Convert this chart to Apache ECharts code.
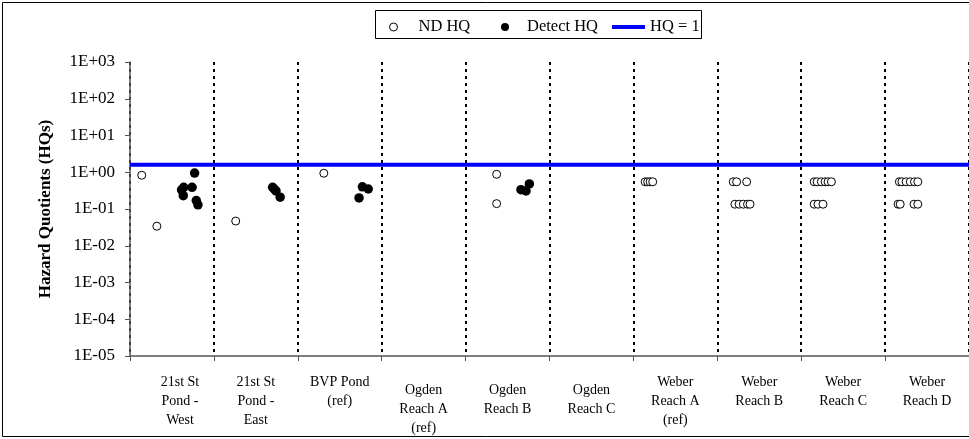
<!DOCTYPE html>
<html>
<head>
<meta charset="utf-8">
<script src="https://cdn.jsdelivr.net/npm/echarts@6/dist/echarts.min.js"></script>
<style>
  html, body { margin: 0; padding: 0; background: #fff; }
  #chart { width: 969px; height: 439px; }
</style>
</head>
<body>
<div id="chart"></div>
<script>
// ---------- data ----------
const categories = [
  '21st St\nPond -\nWest',
  '21st St\nPond -\nEast',
  'BVP Pond\n(ref)',
  'Ogden\nReach A\n(ref)',
  'Ogden\nReach B',
  'Ogden\nReach C',
  'Weber\nReach A\n(ref)',
  'Weber\nReach B',
  'Weber\nReach C',
  'Weber\nReach D'
];
// [position along the category axis (category index + offset), HQ]
const ndHQ = [
  [0.14, 0.83], [0.32, 0.034],
  [1.26, 0.047],
  [2.31, 0.94],
  [4.37, 0.88], [4.37, 0.14],
  [6.14, 0.55], [6.17, 0.55], [6.20, 0.55], [6.23, 0.55],
  [7.19, 0.55], [7.23, 0.55], [7.35, 0.55],
  [7.21, 0.135], [7.26, 0.135], [7.31, 0.135], [7.36, 0.135], [7.39, 0.135],
  [8.155, 0.55], [8.19, 0.55], [8.24, 0.55], [8.285, 0.55], [8.32, 0.55], [8.36, 0.55],
  [8.155, 0.135], [8.20, 0.135], [8.26, 0.135],
  [9.17, 0.55], [9.20, 0.55], [9.25, 0.55], [9.30, 0.55], [9.35, 0.55], [9.39, 0.55],
  [9.155, 0.135], [9.18, 0.135], [9.345, 0.135], [9.39, 0.135]
];
const detectHQ = [
  [0.615, 0.33], [0.64, 0.39], [0.635, 0.23], [0.74, 0.39], [0.79, 0.17], [0.81, 0.13], [0.77, 0.95],
  [1.70, 0.39], [1.72, 0.35], [1.74, 0.31], [1.79, 0.21],
  [2.77, 0.40], [2.84, 0.35], [2.73, 0.20],
  [4.66, 0.335], [4.76, 0.48], [4.72, 0.31]
];
const hqLineValue = 1.6;
const hqLine = [[0, hqLineValue], [10, hqLineValue]];
const yTickLabels = {
  '3': '1E+03', '2': '1E+02', '1': '1E+01', '0': '1E+00',
  '-1': '1E-01', '-2': '1E-02', '-3': '1E-03', '-4': '1E-04', '-5': '1E-05'
};
const seriesNames = ['ND HQ', 'Detect HQ', 'HQ = 1'];

// ---------- chart ----------
const FONT = "'Liberation Serif', 'Times New Roman', serif";
const chart = echarts.init(document.getElementById('chart'), null, { renderer: 'canvas' });

const catData = categories.map((c, i) => {
  if (i === 0) return { value: c, textStyle: { padding: [0, 0, 0, 16] } };
  if (i === 3 || i === 4 || i === 5) return { value: c, textStyle: { padding: [8, 0, 0, 0] } };
  return c;
});

const legendBase = {
  orient: 'horizontal',
  top: 17,
  padding: 0,
  itemHeight: 8,
  itemWidth: 8,
  textStyle: { fontFamily: FONT, fontSize: 16.5, color: '#000', lineHeight: 20 }
};

chart.setOption({
  animation: false,
  backgroundColor: '#fff',
  textStyle: { fontFamily: FONT },
  graphic: [
    { type: 'rect', shape: { x: 2.5, y: 2.5, width: 990, height: 434 },
      style: { fill: 'none', stroke: '#000', lineWidth: 1 }, silent: true },
    { type: 'rect', shape: { x: 375.5, y: 10.5, width: 326, height: 28 },
      style: { fill: '#fff', stroke: '#000', lineWidth: 1 }, silent: true, z: -1 }
  ],
  legend: [
    Object.assign({}, legendBase, {
      left: 389,
      data: [{ name: seriesNames[0], icon: 'circle',
        itemStyle: { color: '#fff', borderColor: '#000', borderWidth: 1 } }],
      textStyle: Object.assign({}, legendBase.textStyle, { padding: [0, 0, 0, 16] })
    }),
    Object.assign({}, legendBase, {
      left: 501,
      data: [{ name: seriesNames[1], icon: 'circle', itemStyle: { color: '#000' } }],
      textStyle: Object.assign({}, legendBase.textStyle, { padding: [0, 0, 0, 13] })
    }),
    Object.assign({}, legendBase, {
      left: 612,
      top: 17,
      itemWidth: 33,
      itemHeight: 4,
      data: [{ name: seriesNames[2], icon: 'rect', itemStyle: { color: '#0000ff' } }]
    })
  ],
  grid: { left: 130, right: -3, top: 62, bottom: 83, containLabel: false },
  xAxis: [
    {
      type: 'category',
      data: catData,
      boundaryGap: true,
      position: 'bottom',
      axisLine: { show: true, lineStyle: { color: '#555', width: 1.5 } },
      axisTick: { show: true, inside: false, length: 5, alignWithLabel: false,
        lineStyle: { color: '#555', width: 1 } },
      axisLabel: { interval: 0, margin: 17, fontFamily: FONT, fontSize: 14,
        lineHeight: 19, color: '#000', verticalAlign: 'top' },
      splitLine: { show: true, interval: 0,
        lineStyle: { color: '#000', type: [3, 4], width: 2 } }
    },
    {
      type: 'value',
      min: 0, max: 10,
      show: false,
      splitLine: { show: false }
    }
  ],
  yAxis: {
    type: 'log',
    logBase: 10,
    min: 1e-5,
    max: 1e3,
    splitNumber: 8,
    name: 'Hazard Quotients (HQs)',
    nameLocation: 'middle',
    nameRotate: 90,
    nameGap: 76,
    nameTextStyle: { fontFamily: FONT, fontSize: 17, fontWeight: 'bold', color: '#000' },
    axisLine: { show: true, lineStyle: { color: '#555', width: 1.5 } },
    axisTick: { show: true, inside: false, length: 5, lineStyle: { color: '#555' } },
    minorTick: { show: false },
    splitLine: { show: false },
    axisLabel: {
      fontFamily: FONT, fontSize: 17, color: '#000', margin: 15,
      formatter: v => {
        const e = Math.round(Math.log10(v));
        return yTickLabels[String(e)] || '';
      }
    }
  },
  series: [
    {
      name: seriesNames[0], type: 'scatter', xAxisIndex: 1, yAxisIndex: 0,
      symbol: 'circle', symbolSize: 8,
      itemStyle: { color: '#fff', borderColor: '#000', borderWidth: 1, opacity: 1 },
      data: ndHQ, z: 3
    },
    {
      name: seriesNames[1], type: 'scatter', xAxisIndex: 1, yAxisIndex: 0,
      symbol: 'circle', symbolSize: 9.5,
      itemStyle: { color: '#000', opacity: 1 },
      data: detectHQ, z: 4
    },
    {
      name: seriesNames[2], type: 'line', xAxisIndex: 1, yAxisIndex: 0,
      symbol: 'none', lineStyle: { color: '#0000ff', width: 4 },
      itemStyle: { color: '#0000ff' },
      data: hqLine, z: 5
    }
  ]
});
</script>
</body>
</html>
